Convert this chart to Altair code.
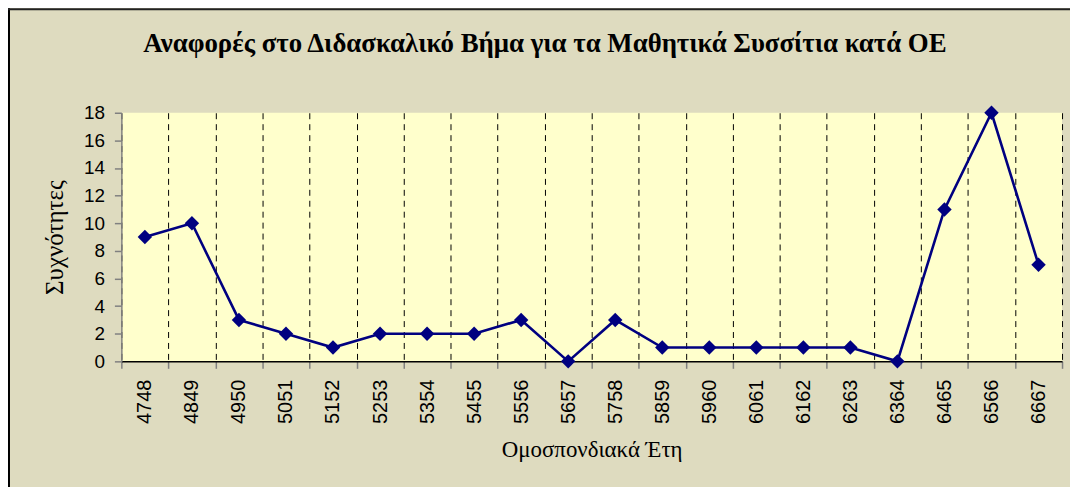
import altair as alt
import pandas as pd

years = ["4748", "4849", "4950", "5051", "5152", "5253", "5354", "5455", "5556", "5657",
         "5758", "5859", "5960", "6061", "6162", "6263", "6364", "6465", "6566", "6667"]
counts = [9, 10, 3, 2, 1, 2, 2, 2, 3, 0, 3, 1, 1, 1, 1, 1, 0, 11, 18, 7]
y_ticks = [0, 2, 4, 6, 8, 10, 12, 14, 16, 18]

df = pd.DataFrame({"year": years, "count": counts})

SERIF = "Liberation Serif, Times New Roman, DejaVu Serif, serif"

x = alt.X("year:N", sort=years, bandPosition=0.5,
          scale=alt.Scale(type="band", paddingInner=0, paddingOuter=0),
          axis=alt.Axis(title="Ομοσπονδιακά Έτη", labelAngle=-90, labelAlign="right",
                        labelBaseline="middle", labelPadding=11,
                        labelFont="Liberation Sans", labelFontSize=20, labelColor="black",
                        titleFont=SERIF, titleFontSize=23, titleFontWeight="normal",
                        titleColor="black", titlePadding=15,
                        tickBand="extent", tickSize=7, tickColor="#808080", tickWidth=1.5,
                        domainColor="black", domainWidth=1.5,
                        grid=True, gridDash=[6, 5], gridColor="black", gridWidth=1))
y = alt.Y("count:Q",
          scale=alt.Scale(domain=[0, 18], nice=False),
          axis=alt.Axis(title="Συχνότητες", values=y_ticks, grid=False,
                        labelFont="Liberation Sans", labelFontSize=19, labelColor="black",
                        labelPadding=10,
                        titleFont=SERIF, titleFontSize=25, titleFontWeight="normal",
                        titleColor="black", titlePadding=16,
                        tickSize=7, tickColor="#808080", tickWidth=1.5,
                        domainColor="#808080", domainWidth=1.5))

line = alt.Chart(df).mark_line(color="#000080", strokeWidth=2.6).encode(x=x, y=y)
pts = alt.Chart(df).mark_point(shape="diamond", filled=True, size=210,
                               color="#000080", opacity=1).encode(x=x, y=y)

frame_df = pd.DataFrame({"k": [0]})
left_border = alt.Chart(frame_df).mark_rule(color="black", strokeWidth=2, clip=False).encode(
    x=alt.value(-113), y=alt.value(-105), y2=alt.value(380))
top_border = alt.Chart(frame_df).mark_rule(color="#222222", strokeWidth=2, clip=False).encode(
    x=alt.value(-114), x2=alt.value(960), y=alt.value(-104))

chart = (line + pts + left_border + top_border).properties(
    width=946, height=250,
    title=alt.TitleParams("Αναφορές στο Διδασκαλικό Βήμα για τα Μαθητικά Συσσίτια κατά ΟΕ",
                          font=SERIF, fontSize=27, fontWeight="bold",
                          color="black", anchor="middle", dx=-47, offset=-51),
    background="#DEDBBF",
    padding={"left": 114, "top": 104, "right": 8, "bottom": 125},
    autosize=alt.AutoSizeParams(type="none"),
).configure_view(fill="#FFFFCC", stroke=None)

chart.save("out.html", embed_options={"renderer": "svg", "actions": False})
